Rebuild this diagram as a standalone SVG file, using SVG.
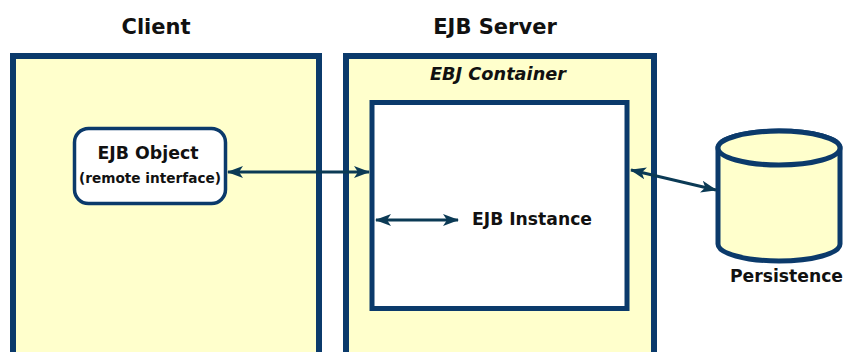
<svg xmlns="http://www.w3.org/2000/svg" width="845" height="352" viewBox="0 0 845 352">
  <style>
    .frame { fill: #ffffcc; stroke: #0b3a6b; stroke-width: 6; }
    .inner { fill: #ffffff; stroke: #0b3a6b; stroke-width: 5; }
    .obj { fill: #ffffff; stroke: #0b3a6b; stroke-width: 3.5; }
    .db { fill: #ffffcc; stroke: #0b3a6b; stroke-width: 5; }
    .title { font-family: "DejaVu Sans", Verdana, sans-serif; font-weight: bold; font-size: 21px; fill: #111; text-anchor: middle; }
    .lbl { font-family: "DejaVu Sans", Verdana, sans-serif; font-weight: bold; font-size: 17px; fill: #111; }
    .small { font-family: "DejaVu Sans", Verdana, sans-serif; font-weight: bold; font-size: 13.5px; fill: #111; text-anchor: middle; }
    .link { fill: none; stroke: #0b3a55; stroke-width: 3; marker-start: url(#head); marker-end: url(#head); }
  </style>
  <defs>
    <marker id="head" viewBox="0 0 16 12" refX="15" refY="6" markerWidth="16" markerHeight="12" markerUnits="userSpaceOnUse" orient="auto-start-reverse">
      <path d="M0,0 L16,6 L0,12 L4,6 z" fill="#0b3a55"/>
    </marker>
  </defs>

  <rect width="845" height="352" fill="#ffffff"/>

  <!-- Client side -->
  <g id="client">
    <text class="title" x="156" y="34">Client</text>
    <rect class="frame" x="13" y="56" width="306" height="310"/>
  </g>

  <!-- EJB server and its container -->
  <g id="ejb-server">
    <text class="title" x="495" y="34">EJB Server</text>
    <rect class="frame" x="346" y="56" width="308" height="310"/>
    <text class="lbl" x="498" y="80" text-anchor="middle" font-style="italic" font-size="16.5" textLength="136" lengthAdjust="spacingAndGlyphs">EBJ Container</text>
  </g>

  <g id="ejb-instance">
    <rect class="inner" x="372" y="102.5" width="255" height="206"/>
    <text class="lbl" x="472" y="225" textLength="120" lengthAdjust="spacingAndGlyphs">EJB Instance</text>
  </g>

  <g id="ejb-object">
    <rect class="obj" x="74.5" y="128.5" width="151" height="75" rx="14" ry="14"/>
    <text class="lbl" x="148" y="159" text-anchor="middle" textLength="101" lengthAdjust="spacingAndGlyphs">EJB Object</text>
    <text class="small" x="150" y="183" textLength="142" lengthAdjust="spacingAndGlyphs">(remote interface)</text>
  </g>

  <!-- Persistence store -->
  <g id="persistence">
    <path class="db" d="M718,148 L718,244 A61,17 0 0 0 840,244 L840,148 A61,17 0 0 0 718,148 z"/>
    <ellipse class="db" cx="779" cy="148" rx="61" ry="17"/>
    <text class="lbl" x="730" y="282" textLength="113" lengthAdjust="spacingAndGlyphs">Persistence</text>
  </g>

  <!-- Connectors -->
  <g id="connectors">
    <line class="link" x1="228" y1="172" x2="369" y2="172"/>
    <line class="link" x1="376" y1="220" x2="458" y2="220"/>
    <line class="link" x1="631" y1="170" x2="716" y2="190"/>
  </g>
</svg>
